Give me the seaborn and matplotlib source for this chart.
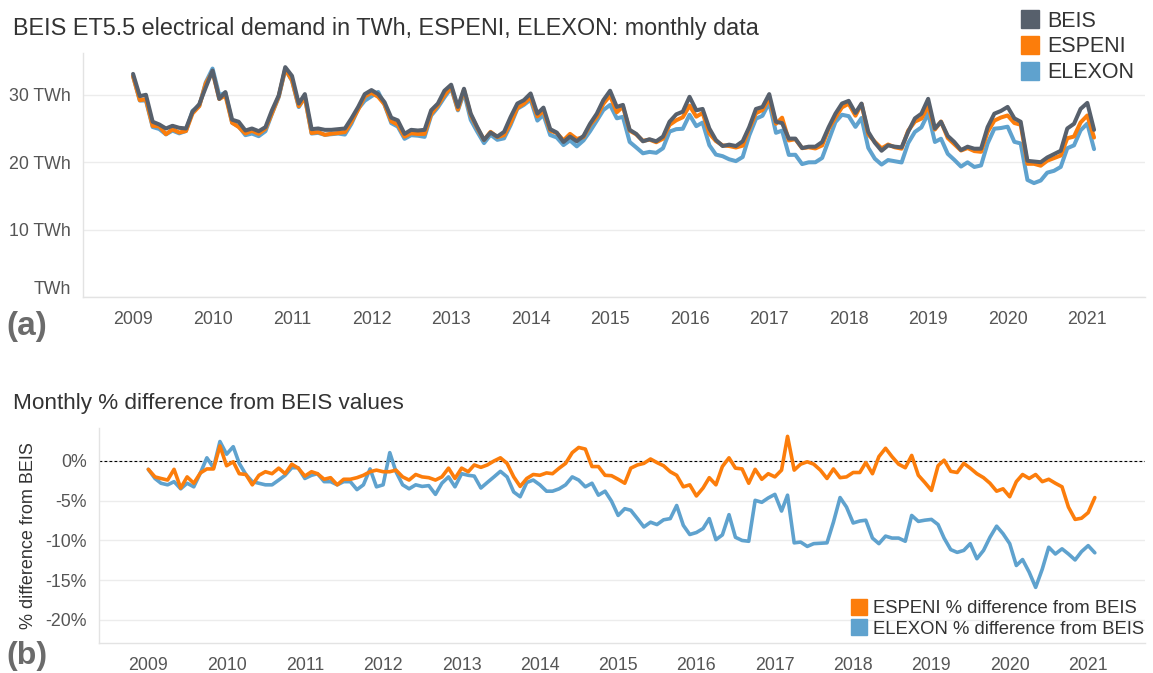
import pandas as pd
import numpy as np
import matplotlib
matplotlib.use('Agg')
import matplotlib.pyplot as plt
import matplotlib.dates as mdates
import matplotlib.transforms as mtransforms
from matplotlib.lines import Line2D
import seaborn as sns

# monthly data, Jan 2009 - Feb 2021
months = pd.date_range('2009-01-01', '2021-02-01', freq='MS')

# TWh
beis = [
    33.1, 29.8, 30.0, 26.0, 25.6, 25.0, 25.4, 25.1, 25.0, 27.5, 28.6, 31.1,
    33.6, 29.4, 30.4, 26.3, 26.0, 24.7, 25.0, 24.6, 25.2, 27.7, 29.9, 34.1,
    32.8, 28.7, 30.1, 24.9, 25.0, 24.8, 24.8, 24.9, 25.0, 26.5, 28.2, 30.1,
    30.7, 30.1, 28.9, 26.6, 26.2, 24.2, 24.8, 24.7, 24.8, 27.7, 28.7, 30.6,
    31.5, 28.2, 30.9, 27.2, 25.2, 23.3, 24.4, 23.8, 24.5, 26.7, 28.7, 29.2,
    30.2, 27.2, 28.1, 24.9, 24.4, 23.0, 23.8, 23.1, 23.9, 25.7, 27.2, 29.2,
    30.6, 28.2, 28.5, 24.8, 24.2, 23.1, 23.4, 23.1, 23.8, 26.0, 27.1, 27.5,
    29.7, 27.7, 27.9, 25.0, 23.3, 22.4, 22.6, 22.4, 23.1, 25.2, 27.9, 28.2,
    30.1, 26.0, 25.8, 23.5, 23.5, 22.1, 22.3, 22.3, 23.0, 25.2, 27.2, 28.7,
    29.1, 27.3, 28.7, 24.5, 22.9, 21.7, 22.5, 22.3, 22.2, 24.5, 26.5, 27.2,
    29.4, 25.0, 26.0, 23.9, 23.0, 21.8, 22.3, 22.0, 22.0, 25.2, 27.2, 27.6,
    28.2, 26.5, 26.0, 20.2, 20.1, 20.0, 20.7, 21.2, 21.7, 25.0, 25.7, 27.9,
    28.8, 24.8,
]
espeni = [
    32.75, 29.20, 29.34, 25.38, 25.33, 24.15, 24.89, 24.40, 24.63, 27.23, 28.31, 31.69,
    33.40, 29.37, 29.91, 25.85, 25.22, 24.26, 24.66, 24.21, 24.97, 27.26, 29.78, 33.79,
    32.18, 28.31, 29.62, 24.33, 24.47, 24.06, 24.23, 24.33, 24.47, 26.02, 27.82, 29.75,
    30.29, 29.69, 28.57, 26.07, 25.57, 23.79, 24.30, 24.18, 24.20, 27.15, 28.44, 29.93,
    31.22, 27.82, 30.75, 26.98, 25.07, 23.30, 24.50, 23.73, 24.01, 25.85, 28.07, 28.70,
    29.66, 26.79, 27.65, 24.68, 24.33, 23.24, 24.20, 23.45, 23.73, 25.52, 26.71, 28.66,
    29.90, 27.41, 28.24, 24.68, 24.13, 23.16, 23.35, 22.96, 23.48, 25.53, 26.22, 26.67,
    28.39, 26.76, 27.31, 24.25, 23.14, 22.49, 22.40, 22.18, 22.45, 24.94, 27.26, 27.75,
    29.50, 25.70, 26.60, 23.23, 23.41, 22.08, 22.21, 22.04, 22.49, 24.95, 26.63, 28.13,
    28.68, 26.90, 28.64, 24.11, 23.03, 22.05, 22.62, 22.21, 22.01, 24.67, 26.02, 26.47,
    28.31, 24.85, 26.03, 23.59, 22.67, 21.73, 22.10, 21.65, 21.54, 24.49, 26.17, 26.63,
    26.93, 25.81, 25.56, 19.76, 19.76, 19.48, 20.22, 20.61, 20.99, 23.55, 23.81, 25.89,
    26.93, 23.66,
]
elexon = [
    32.75, 29.14, 29.16, 25.22, 24.93, 24.13, 24.69, 24.28, 24.63, 27.61, 28.36, 31.86,
    33.89, 29.93, 30.31, 25.85, 25.32, 24.01, 24.25, 23.86, 24.60, 27.20, 29.65, 33.81,
    32.08, 28.18, 29.62, 24.25, 24.35, 24.06, 24.16, 24.25, 24.10, 25.70, 27.92, 29.12,
    29.78, 30.42, 28.51, 25.80, 25.28, 23.47, 24.01, 23.93, 23.76, 26.92, 28.13, 29.61,
    31.00, 27.69, 30.31, 26.28, 24.52, 22.83, 24.08, 23.32, 23.54, 25.50, 27.93, 28.50,
    29.29, 26.17, 27.03, 24.03, 23.67, 22.54, 23.23, 22.35, 23.23, 24.59, 26.17, 27.73,
    28.50, 26.51, 26.73, 23.00, 22.19, 21.32, 21.53, 21.39, 22.07, 24.54, 24.90, 24.96,
    27.03, 25.35, 25.88, 22.52, 21.13, 20.89, 20.43, 20.16, 20.77, 23.95, 26.45, 26.89,
    28.84, 24.36, 24.69, 21.08, 21.10, 19.72, 19.98, 19.99, 20.63, 23.26, 25.95, 27.04,
    26.83, 25.24, 26.56, 22.12, 20.52, 19.65, 20.32, 20.14, 19.96, 22.82, 24.49, 25.17,
    27.24, 23.00, 23.48, 21.24, 20.35, 19.35, 19.98, 19.29, 19.52, 22.78, 24.97, 25.07,
    25.27, 23.02, 22.78, 17.37, 16.90, 17.28, 18.45, 18.72, 19.30, 22.07, 22.50, 24.72,
    25.73, 21.94,
]

# % difference from BEIS
espeni_pct = [
    -1.05, -2.0, -2.2, -2.4, -1.05, -3.4, -2.0, -2.8, -1.5, -1.0, -1.0, 1.9,
    -0.6, -0.1, -1.6, -1.7, -3.0, -1.8, -1.35, -1.6, -0.9, -1.6, -0.4, -0.9,
    -1.9, -1.35, -1.6, -2.3, -2.1, -3.0, -2.3, -2.3, -2.1, -1.8, -1.35, -1.15,
    -1.35, -1.35, -1.15, -2.0, -2.4, -1.7, -2.0, -2.1, -2.4, -2.0, -0.9, -2.2,
    -0.9, -1.35, -0.5, -0.8, -0.5, 0.0, 0.4, -0.3, -2.0, -3.2, -2.2, -1.7,
    -1.8, -1.5, -1.6, -0.9, -0.3, 1.05, 1.7, 1.5, -0.7, -0.7, -1.8, -1.85,
    -2.3, -2.8, -0.9, -0.5, -0.3, 0.25, -0.2, -0.6, -1.35, -1.8, -3.25, -3.0,
    -4.4, -3.4, -2.1, -3.0, -0.7, 0.4, -0.9, -1.0, -2.8, -1.05, -2.3, -1.6,
    -2.0, -1.15, 3.1, -1.15, -0.4, -0.1, -0.4, -1.15, -2.2, -1.0, -2.1, -2.0,
    -1.45, -1.45, -0.2, -1.6, 0.55, 1.6, 0.55, -0.4, -0.85, 0.7, -1.8, -2.7,
    -3.7, -0.6, 0.1, -1.3, -1.45, -0.3, -0.9, -1.6, -2.1, -2.8, -3.8, -3.5,
    -4.5, -2.6, -1.7, -2.2, -1.7, -2.6, -2.3, -2.8, -3.25, -5.8, -7.35, -7.2,
    -6.5, -4.6,
]
elexon_pct = [
    -1.05, -2.2, -2.8, -3.0, -2.6, -3.5, -2.8, -3.25, -1.5, 0.4, -0.85, 2.45,
    0.85, 1.8, -0.3, -1.7, -2.6, -2.8, -3.0, -3.0, -2.4, -1.8, -0.85, -0.85,
    -2.2, -1.8, -1.6, -2.6, -2.6, -3.0, -2.6, -2.6, -3.6, -3.0, -1.0, -3.25,
    -3.0, 1.05, -1.35, -3.0, -3.5, -3.0, -3.2, -3.1, -4.2, -2.8, -2.0, -3.25,
    -1.6, -1.8, -1.9, -3.4, -2.7, -2.0, -1.3, -2.0, -3.9, -4.5, -2.7, -2.4,
    -3.0, -3.8, -3.8, -3.5, -3.0, -2.0, -2.4, -3.25, -2.8, -4.3, -3.8, -5.05,
    -6.85, -6.0, -6.2, -7.25, -8.3, -7.7, -8.0, -7.4, -7.25, -5.6, -8.1, -9.25,
    -9.0, -8.5, -7.25, -9.9, -9.3, -6.75, -9.6, -10.0, -10.1, -4.95, -5.2, -4.65,
    -4.2, -6.3, -4.3, -10.3, -10.2, -10.75, -10.4, -10.35, -10.3, -7.7, -4.6, -5.8,
    -7.8, -7.55, -7.45, -9.7, -10.4, -9.45, -9.7, -9.7, -10.1, -6.85, -7.6, -7.45,
    -7.35, -8.0, -9.7, -11.15, -11.5, -11.25, -10.4, -12.3, -11.25, -9.6, -8.2, -9.15,
    -10.4, -13.15, -12.4, -14.0, -15.9, -13.6, -10.85, -11.7, -11.05, -11.7, -12.45, -11.4,
    -10.65, -11.55,
]

year_labels = [str(y) for y in range(2009, 2022)]
twh_ticks = [0, 10, 20, 30]
twh_labels = ['TWh', '10 TWh', '20 TWh', '30 TWh']
pct_ticks = [0, -5, -10, -15, -20]
pct_labels = ['0%', '-5%', '-10%', '-15%', '-20%']

colors = {'BEIS': '#57606c', 'ESPENI': '#fc7d0b', 'ELEXON': '#5fa2ce'}
esp_lab = 'ESPENI % difference from BEIS'
elx_lab = 'ELEXON % difference from BEIS'
diff_colors = {esp_lab: colors['ESPENI'], elx_lab: colors['ELEXON']}

demand = pd.DataFrame({'month': months, 'BEIS': beis, 'ESPENI': espeni, 'ELEXON': elexon})
demand = demand.melt(id_vars='month', var_name='source', value_name='twh')
diff = pd.DataFrame({'month': months, esp_lab: espeni_pct, elx_lab: elexon_pct})
diff = diff.melt(id_vars='month', var_name='source', value_name='pct')

sns.set_style('white')
plt.rcParams['font.family'] = ['Liberation Sans', 'DejaVu Sans']

W, H = 1153, 673
fig = plt.figure(figsize=(W / 100, H / 100), dpi=100)
ax1 = fig.add_axes([83 / W, 1 - 297 / H, 1062 / W, 244 / H])
ax2 = fig.add_axes([99 / W, 1 - 643 / H, 1046 / W, 215 / H])

# top panel
sns.lineplot(data=demand, x='month', y='twh', hue='source',
             hue_order=['ELEXON', 'ESPENI', 'BEIS'], palette=colors,
             linewidth=2.9, legend=False, ax=ax1)
ax1.set_ylim(0, 36.2)
ax1.set_yticks(twh_ticks)
ax1.set_yticklabels(twh_labels)

# bottom panel
ax2.axhline(0, color='black', linestyle=(0, (2.5, 2)), linewidth=0.8, zorder=1)
sns.lineplot(data=diff, x='month', y='pct', hue='source',
             hue_order=[elx_lab, esp_lab], palette=diff_colors,
             linewidth=2.6, legend=False, ax=ax2, zorder=3)
ax2.set_ylim(-22.9, 4.15)
ax2.set_yticks(pct_ticks)
ax2.set_yticklabels(pct_labels)
ax2.set_ylabel('% difference from BEIS', fontsize=13, color='#333333', labelpad=6)

year_ticks = pd.to_datetime([f'{y}-01-01' for y in range(2009, 2022)])
for ax in (ax1, ax2):
    ax.set_xlim(pd.Timestamp('2008-05-16'), pd.Timestamp('2021-09-23'))
    ax.set_xticks(year_ticks)
    ax.set_xticklabels(year_labels)
    ax.xaxis.set_minor_locator(mdates.MonthLocator(bymonth=7))
    ax.set_xlabel('')
    if ax is ax1:
        ax.set_ylabel('')
    ax.yaxis.grid(True, color='#ececec', linewidth=1)
    ax.xaxis.grid(False)
    for s in ('top', 'right'):
        ax.spines[s].set_visible(False)
    for s in ('left', 'bottom'):
        ax.spines[s].set_color('#e3e3e3')
        ax.spines[s].set_linewidth(1)
    ax.tick_params(axis='x', which='major', length=4, color='#dddddd',
                   labelsize=12.8, labelcolor='#555555', pad=6)
    ax.tick_params(axis='x', which='minor', length=3, color='#e6e6e6')
    ax.tick_params(axis='y', length=0, labelsize=12.8, labelcolor='#555555', pad=9)

# lift the bare "TWh" label a little, like the original
zero_lab = ax1.get_yticklabels()[0]
zero_lab.set_transform(zero_lab.get_transform() +
                       mtransforms.ScaledTranslation(0, 0.1, fig.dpi_scale_trans))

# legends
top_handles = [Line2D([], [], marker='s', markersize=13, linestyle='none', color=colors[k])
               for k in ['BEIS', 'ESPENI', 'ELEXON']]
fig.legend(top_handles, ['BEIS', 'ESPENI', 'ELEXON'], loc='upper left',
           bbox_to_anchor=(1011 / W, 1 - 0 / H), frameon=False, fontsize=15.5,
           labelcolor='#333333', handlelength=0.8, handletextpad=0.4,
           labelspacing=0.22, borderpad=0)
bot_handles = [Line2D([], [], marker='s', markersize=12, linestyle='none', color=diff_colors[k])
               for k in [esp_lab, elx_lab]]
fig.legend(bot_handles, [esp_lab, elx_lab], loc='upper left',
           bbox_to_anchor=(842 / W, 1 - 591 / H), frameon=False, fontsize=13.3,
           labelcolor='#333333', handlelength=0.8, handletextpad=0.4,
           labelspacing=0.2, borderpad=0)

# titles and panel tags
fig.text(13 / W, 1 - 29 / H, 'BEIS ET5.5 electrical demand in TWh, ESPENI, ELEXON: monthly data',
         fontsize=16.8, color='#333333', va='center', ha='left')
fig.text(13 / W, 1 - 404 / H, 'Monthly % difference from BEIS values',
         fontsize=16.2, color='#333333', va='center', ha='left')
fig.text(6 / W, 1 - 326 / H, '(a)', fontsize=24, fontweight='bold', color='#6b6b6b',
         va='center', ha='left')
fig.text(6 / W, 2 / H, '(b)', fontsize=23, fontweight='bold', color='#6b6b6b',
         va='bottom', ha='left')

fig.savefig('out.png', dpi=100)
